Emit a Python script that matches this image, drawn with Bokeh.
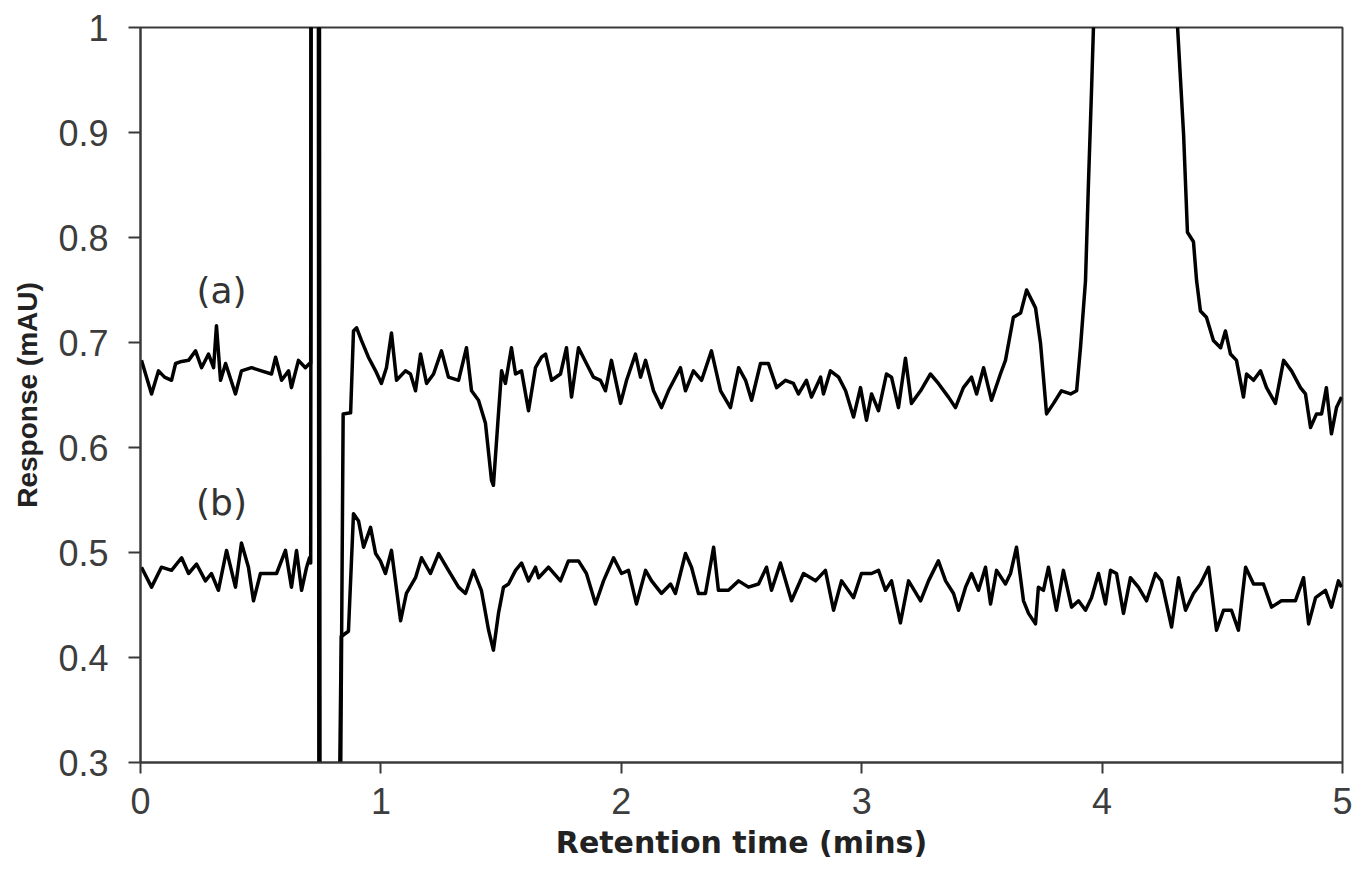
from bokeh.plotting import figure
from bokeh.models import Range1d, FixedTicker, CustomJSTickFormatter, ColumnDataSource
from bokeh.core.properties import value
from bokeh.embed import file_html
from bokeh.resources import INLINE

# ---- data ----
x_ticks = [0, 1, 2, 3, 4, 5]
y_ticks = [0.3, 0.4, 0.5, 0.6, 0.7, 0.8, 0.9, 1.0]

# Trace (a): retention time (min) and response (mAU); off-scale values mark saturated excursions
trace_a_t = [0.004, 0.046, 0.075, 0.100, 0.129, 0.146, 0.171, 0.200, 0.229, 0.254, 0.283, 0.304,
             0.316, 0.333, 0.354, 0.395, 0.420, 0.462, 0.503, 0.545, 0.562, 0.587, 0.616, 0.628,
             0.657, 0.686, 0.703, 0.708, 0.712, 0.738, 0.744, 0.815, 0.843, 0.874, 0.886, 0.899,
             0.919, 0.948, 0.978, 1.002, 1.023, 1.044, 1.065, 1.102, 1.123, 1.144, 1.165, 1.190,
             1.219, 1.252, 1.281, 1.323, 1.356, 1.377, 1.406, 1.435, 1.460, 1.468, 1.489, 1.502,
             1.518, 1.543, 1.560, 1.585, 1.614, 1.643, 1.668, 1.685, 1.710, 1.747, 1.772, 1.793,
             1.822, 1.855, 1.884, 1.913, 1.934, 1.959, 1.997, 2.022, 2.059, 2.080, 2.101, 2.134,
             2.167, 2.196, 2.246, 2.267, 2.300, 2.334, 2.375, 2.413, 2.454, 2.488, 2.517, 2.542,
             2.579, 2.612, 2.646, 2.683, 2.716, 2.737, 2.770, 2.791, 2.829, 2.841, 2.870, 2.904,
             2.933, 2.966, 2.995, 3.020, 3.041, 3.070, 3.103, 3.124, 3.153, 3.182, 3.207, 3.245,
             3.286, 3.319, 3.361, 3.390, 3.423, 3.457, 3.478, 3.507, 3.540, 3.577, 3.598, 3.631,
             3.661, 3.686, 3.723, 3.744, 3.769, 3.798, 3.831, 3.869, 3.894, 3.910, 3.931, 3.943,
             3.956, 3.964, 4.120, 4.314, 4.339, 4.355, 4.380, 4.393, 4.409, 4.434, 4.463, 4.493,
             4.513, 4.534, 4.559, 4.588, 4.601, 4.630, 4.659, 4.684, 4.721, 4.755, 4.788, 4.825,
             4.846, 4.867, 4.892, 4.913, 4.933, 4.954, 4.975, 4.996]
trace_a_r = [0.683, 0.651, 0.673, 0.667, 0.664, 0.680, 0.682, 0.683, 0.692, 0.676, 0.689, 0.676,
             0.716, 0.664, 0.680, 0.651, 0.673, 0.676, 0.673, 0.670, 0.686, 0.664, 0.673, 0.657,
             0.683, 0.676, 0.680, 0.680, 1.800, 1.800, -0.500, -0.300, 0.632, 0.633, 0.711, 0.714,
             0.702, 0.686, 0.673, 0.661, 0.676, 0.709, 0.664, 0.673, 0.670, 0.654, 0.689, 0.661,
             0.670, 0.692, 0.667, 0.664, 0.695, 0.654, 0.645, 0.623, 0.569, 0.564, 0.632, 0.673,
             0.661, 0.695, 0.670, 0.673, 0.635, 0.676, 0.686, 0.689, 0.664, 0.670, 0.695, 0.648,
             0.695, 0.680, 0.667, 0.664, 0.654, 0.683, 0.642, 0.664, 0.689, 0.667, 0.683, 0.654,
             0.638, 0.654, 0.676, 0.654, 0.673, 0.664, 0.692, 0.654, 0.638, 0.676, 0.664, 0.645,
             0.680, 0.680, 0.657, 0.664, 0.661, 0.651, 0.664, 0.648, 0.667, 0.651, 0.673, 0.667,
             0.654, 0.629, 0.657, 0.626, 0.651, 0.635, 0.670, 0.667, 0.638, 0.685, 0.642, 0.654,
             0.670, 0.661, 0.648, 0.638, 0.657, 0.667, 0.651, 0.676, 0.645, 0.670, 0.683, 0.724,
             0.728, 0.750, 0.733, 0.699, 0.632, 0.642, 0.654, 0.651, 0.654, 0.695, 0.759, 0.850,
             0.940, 1.000, 1.900, 1.000, 0.898, 0.805, 0.796, 0.759, 0.730, 0.724, 0.702, 0.695,
             0.711, 0.689, 0.683, 0.648, 0.670, 0.664, 0.673, 0.657, 0.642, 0.683, 0.673, 0.657,
             0.651, 0.619, 0.632, 0.632, 0.657, 0.613, 0.638, 0.648]

# Trace (b)
trace_b_t = [0.004, 0.046, 0.087, 0.129, 0.171, 0.200, 0.233, 0.270, 0.295, 0.324, 0.358, 0.395,
             0.420, 0.449, 0.470, 0.499, 0.532, 0.566, 0.603, 0.628, 0.649, 0.670, 0.691, 0.703,
             0.708, 0.712, 0.742, 0.749, 0.800, 0.835, 0.865, 0.886, 0.907, 0.928, 0.957, 0.978,
             0.998, 1.019, 1.044, 1.082, 1.106, 1.144, 1.169, 1.206, 1.240, 1.281, 1.323, 1.352,
             1.385, 1.418, 1.448, 1.468, 1.489, 1.510, 1.531, 1.560, 1.585, 1.614, 1.643, 1.656,
             1.697, 1.747, 1.780, 1.822, 1.855, 1.893, 1.926, 1.968, 2.001, 2.030, 2.063, 2.101,
             2.126, 2.167, 2.205, 2.225, 2.267, 2.292, 2.321, 2.350, 2.384, 2.404, 2.446, 2.488,
             2.529, 2.571, 2.604, 2.625, 2.662, 2.708, 2.758, 2.808, 2.849, 2.883, 2.916, 2.966,
             2.999, 3.041, 3.070, 3.099, 3.124, 3.161, 3.195, 3.245, 3.278, 3.319, 3.349, 3.382,
             3.403, 3.432, 3.457, 3.486, 3.515, 3.536, 3.561, 3.598, 3.619, 3.644, 3.673, 3.694,
             3.723, 3.735, 3.756, 3.777, 3.810, 3.839, 3.873, 3.902, 3.931, 3.956, 3.985, 4.014,
             4.035, 4.060, 4.089, 4.118, 4.151, 4.185, 4.222, 4.247, 4.289, 4.318, 4.347, 4.380,
             4.409, 4.443, 4.476, 4.505, 4.538, 4.567, 4.597, 4.630, 4.671, 4.705, 4.746, 4.804,
             4.838, 4.859, 4.888, 4.929, 4.954, 4.983, 4.996]
trace_b_r = [0.486, 0.467, 0.486, 0.483, 0.495, 0.480, 0.489, 0.473, 0.480, 0.464, 0.502, 0.467,
             0.509, 0.486, 0.454, 0.480, 0.480, 0.480, 0.502, 0.467, 0.502, 0.464, 0.486, 0.495,
             0.490, 1.800, 1.800, -0.500, -0.300, 0.420, 0.425, 0.537, 0.530, 0.505, 0.524, 0.499,
             0.492, 0.480, 0.502, 0.435, 0.461, 0.476, 0.495, 0.480, 0.499, 0.483, 0.467, 0.461,
             0.483, 0.464, 0.426, 0.407, 0.442, 0.467, 0.470, 0.483, 0.490, 0.473, 0.486, 0.476,
             0.486, 0.473, 0.492, 0.492, 0.480, 0.451, 0.473, 0.495, 0.480, 0.483, 0.451, 0.483,
             0.473, 0.461, 0.470, 0.461, 0.499, 0.486, 0.461, 0.461, 0.505, 0.464, 0.464, 0.473,
             0.467, 0.470, 0.486, 0.464, 0.490, 0.454, 0.480, 0.473, 0.483, 0.445, 0.473, 0.457,
             0.480, 0.480, 0.483, 0.464, 0.473, 0.433, 0.473, 0.454, 0.473, 0.492, 0.473, 0.461,
             0.445, 0.467, 0.480, 0.464, 0.486, 0.451, 0.483, 0.470, 0.480, 0.505, 0.454, 0.442,
             0.432, 0.467, 0.464, 0.486, 0.445, 0.483, 0.448, 0.454, 0.445, 0.457, 0.480, 0.451,
             0.483, 0.480, 0.442, 0.476, 0.467, 0.454, 0.480, 0.473, 0.429, 0.476, 0.445, 0.461,
             0.470, 0.486, 0.426, 0.445, 0.445, 0.426, 0.486, 0.470, 0.470, 0.448, 0.454, 0.454,
             0.476, 0.432, 0.457, 0.464, 0.448, 0.473, 0.467]

trace_names = ["(a)", "(b)"]
trace_label_t = [0.337, 0.337]
trace_label_r = [0.750, 0.548]

# ---- figure ----
p = figure(width=1359, height=877, output_backend="svg", toolbar_location=None,
           x_range=Range1d(0, 5), y_range=Range1d(0.3, 1.0),
           min_border_left=140, min_border_right=17, min_border_top=27, min_border_bottom=115)
p.background_fill_color = "white"
p.border_fill_color = "white"
p.outline_line_color = "#3a3a3a"
p.outline_line_width = 2
p.xgrid.visible = False
p.ygrid.visible = False

src_a = ColumnDataSource(dict(t=trace_a_t, r=trace_a_r))
src_b = ColumnDataSource(dict(t=trace_b_t, r=trace_b_r))
p.line("t", "r", source=src_a, line_color="black", line_width=3.5, line_join="round")
p.line("t", "r", source=src_b, line_color="black", line_width=3.5, line_join="round")

lab_src = ColumnDataSource(dict(t=trace_label_t, r=trace_label_r, name=trace_names))
p.text("t", "r", text="name", source=lab_src, text_font=value("DejaVu Sans"),
       text_font_size="36px", text_color="#333333", text_align="center",
       text_baseline="middle")

for ax in (p.xaxis[0], p.yaxis[0]):
    ax.axis_line_color = "#3a3a3a"
    ax.axis_line_width = 2
    ax.major_tick_line_color = "#3a3a3a"
    ax.major_tick_line_width = 2
    ax.major_tick_in = 0
    ax.minor_tick_line_color = None
    ax.major_label_text_font = "Liberation Sans"
    ax.major_label_text_color = "#3d3d3d"
    ax.axis_label_text_color = "#222222"
    ax.axis_label_text_font_style = "bold"

p.xaxis.ticker = FixedTicker(ticks=x_ticks)
p.xaxis.formatter = CustomJSTickFormatter(code="return tick.toFixed(0);")
p.xaxis.major_tick_out = 11
p.xaxis.major_label_standoff = 14
p.xaxis.major_label_text_font_size = "36px"
p.xaxis.axis_label = "Retention time (mins)"
p.xaxis.axis_label_text_font = "DejaVu Sans"
p.xaxis.axis_label_text_font_size = "30px"
p.xaxis.axis_label_standoff = 8

p.yaxis.ticker = FixedTicker(ticks=y_ticks)
p.yaxis.formatter = CustomJSTickFormatter(
    code="return (Math.abs(tick - 1) < 1e-9) ? '1' : tick.toFixed(1);")
p.yaxis.major_tick_out = 12
p.yaxis.major_label_standoff = 20
p.yaxis.major_label_text_font_size = "36px"
p.yaxis.axis_label = "Response (mAU)"
p.yaxis.axis_label_text_font = "Liberation Sans"
p.yaxis.axis_label_text_font_size = "28px"
p.yaxis.axis_label_standoff = 12

open("out.html", "w").write(file_html(p, INLINE))
